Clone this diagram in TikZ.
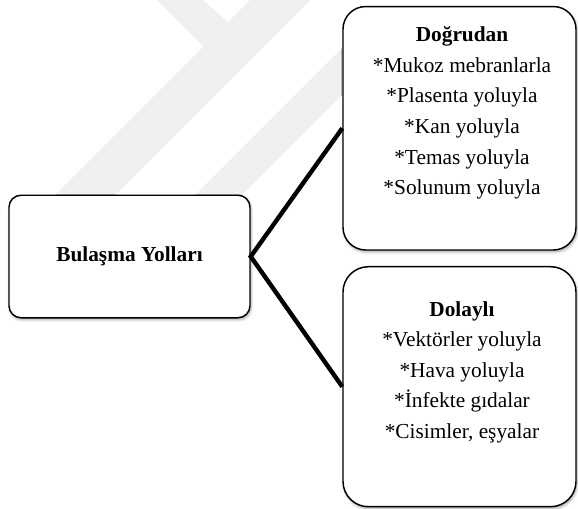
\documentclass[tikz,border=0pt]{standalone}
\usepackage{fontspec}
\setmainfont{Liberation Serif}
\usetikzlibrary{shadows.blur}
\begin{document}
\begin{tikzpicture}[x=0.75pt,y=-0.75pt,
  emblem/.style={fill=black!6,draw=none},
  card/.style={draw=black,line width=1.1pt,fill=white,inner sep=0pt,
    blur shadow={shadow xshift=0.8pt,shadow yshift=-1.5pt,
      shadow blur radius=2pt,shadow opacity=35}},
  link/.style={line width=3.3pt,line join=miter},
  body/.style={align=center,inner sep=0pt,
    font=\fontsize{16}{22.9}\selectfont}
]
\useasboundingbox (0,0) rectangle (578,508);

% faint emblem in the background
\fill[emblem] (157,0) -- (203,0) -- (228,22) -- (250,0) -- (310,0)
  -- (85,225) -- (25,225) -- (203.5,46.5) -- cycle;
\fill[emblem] (350,40) -- (350,87) -- (232,205) -- (185,205) -- cycle;

% boxes
\node[card,rounded corners=9pt,minimum width=180.75pt,minimum height=91.9pt,
  font=\fontsize{16}{19}\selectfont\bfseries] (root) at (129.5,256.5) {Bulaşma Yolları};
\node[card,rounded corners=17pt,minimum width=174.75pt,minimum height=182.6pt]
  (direct) at (459.5,128.25) {};
\node[card,rounded corners=19pt,minimum width=174.75pt,minimum height=180pt]
  (indirect) at (459.5,386.7) {};

% box contents
\node[body] (directlist) at (462,113)
  {\textbf{Doğrudan}\\{*}Mukoz mebranlarla\\{*}Plasenta yoluyla\\{*}Kan yoluyla\\{*}Temas yoluyla\\{*}Solunum yoluyla};
\node[body] (indirectlist) at (462,372.3)
  {\textbf{Dolaylı}\\{*}Vektörler yoluyla\\{*}Hava yoluyla\\{*}İnfekte gıdalar\\{*}Cisimler, eşyalar};

% connectors
\draw[link] (direct.west) -- (root.east) -- (indirect.west);
\end{tikzpicture}
\end{document}
